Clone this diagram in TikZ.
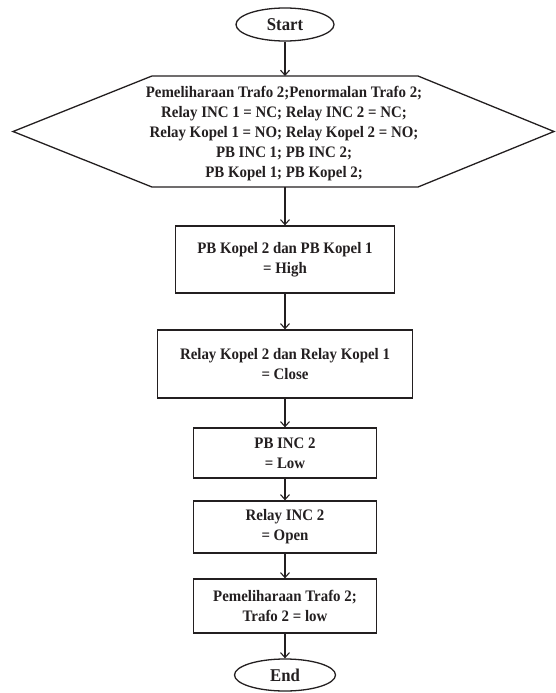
\documentclass[tikz,border=0pt]{standalone}
\usepackage{fontspec}
\setmainfont[FakeStretch=0.93]{Liberation Serif}
\usetikzlibrary{shapes.geometric,arrows.meta}
\definecolor{ink}{HTML}{231F20}
\begin{document}
\begin{tikzpicture}[x=1pt,y=-1pt,
  every node/.style={font=\bfseries\fontsize{16}{20}\selectfont, text=ink},
  term/.style={ellipse, draw=ink, line width=1.3pt, minimum width=98pt, minimum height=33pt, inner sep=0pt, font=\bfseries\fontsize{18}{20}\selectfont},
  proc/.style={rectangle, draw=ink, line width=1.3pt, align=center, inner sep=0pt},
  arr/.style={draw=ink, line width=1.1pt, -{Straight Barb[length=5pt,width=9pt]}}]
\useasboundingbox (0,0) rectangle (555,693);
\node[term] (start) at (285,24.5) {Start};
\node[align=center, inner sep=0pt] (hex) at (284,133.5) {Pemeliharaan Trafo 2;Penormalan Trafo 2;\\Relay INC 1 = NC; Relay INC 2 = NC;\\Relay Kopel 1 = NO; Relay Kopel 2 = NO;\\PB INC 1; PB INC 2;\\PB Kopel 1; PB Kopel 2;};
\draw[ink, line width=1.3pt, line join=miter] (13,131.5) -- (152,76) -- (418,76) -- (554,131.5) -- (418,187) -- (152,187) -- cycle;
\coordinate (hexT) at (285,76);
\coordinate (hexB) at (285,187);
\node[proc, minimum width=219pt, minimum height=67pt] (b1) at (285,259.5) {PB Kopel 2 dan PB Kopel 1\\= High};
\node[proc, minimum width=255pt, minimum height=68pt] (b2) at (285,364) {Relay Kopel 2 dan Relay Kopel 1\\= Close};
\node[proc, minimum width=183pt, minimum height=50pt] (b3) at (285,453) {PB INC 2\\= Low};
\node[proc, minimum width=183pt, minimum height=52pt] (b4) at (285,527) {Relay INC 2\\= Open};
\node[proc, minimum width=183pt, minimum height=54pt] (b5) at (285,606) {Pemeliharaan Trafo 2;\\Trafo 2 = low};
\node[term, minimum width=101pt, minimum height=32pt] (end) at (285,675) {End};
\draw[arr] (start) -- (hexT);
\draw[arr] (hexB) -- (b1);
\draw[arr] (b1) -- (b2);
\draw[arr] (b2) -- (b3);
\draw[arr] (b3) -- (b4);
\draw[arr] (b4) -- (b5);
\draw[arr] (b5) -- (end);
\end{tikzpicture}
\end{document}
